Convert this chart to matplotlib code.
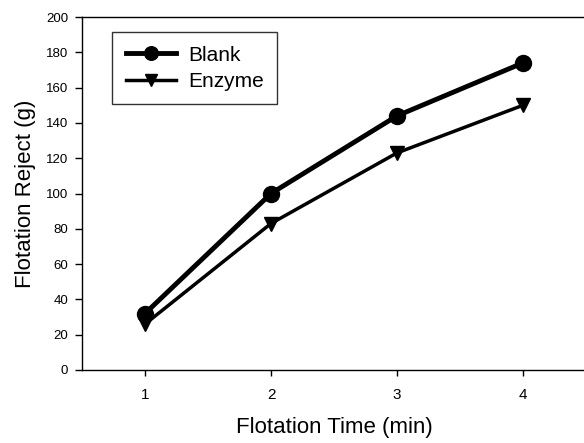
import matplotlib
matplotlib.use("Agg")
import matplotlib.pyplot as plt

plt.rcParams['font.family'] = ['Liberation Sans', 'DejaVu Sans']

# Data
times = [1, 2, 3, 4]
blank = [32, 100, 144, 174]
enzyme = [26, 83, 123, 150]

fig = plt.figure(figsize=(5.84, 4.43), dpi=100)
ax = fig.add_axes([82 / 584, 1 - 370 / 443, 504 / 584, 353 / 443])

ax.plot(times, blank, color='black', linewidth=3.5, marker='o',
        markersize=11.5, label='Blank')
ax.plot(times, enzyme, color='black', linewidth=2.5, marker='v',
        markersize=10, label='Enzyme')

ax.set_xlim(0.5, 4.5)
ax.set_ylim(0, 200)
ax.set_xticks(times)
ax.set_yticks(range(0, 201, 20))
ax.tick_params(axis='both', direction='out', width=1)
ax.tick_params(axis='x', length=4, pad=9, labelsize=11)
ax.tick_params(axis='y', length=5, pad=5, labelsize=9.5)

ax.set_xlabel('Flotation Time (min)', fontsize=16, labelpad=11)
ax.set_ylabel('Flotation Reject (g)', fontsize=16, labelpad=7)

for s in ['left', 'bottom', 'top']:
    ax.spines[s].set_linewidth(1)

leg = ax.legend(loc='upper left', bbox_to_anchor=(0.0595, 0.9575),
                borderaxespad=0, fontsize=15, frameon=True, fancybox=False,
                edgecolor='black', handlelength=2.4, handletextpad=0.6,
                borderpad=0.65, labelspacing=0.35, markerscale=0.85)
leg.get_frame().set_linewidth(1)

fig.savefig('out.png', dpi=100)
